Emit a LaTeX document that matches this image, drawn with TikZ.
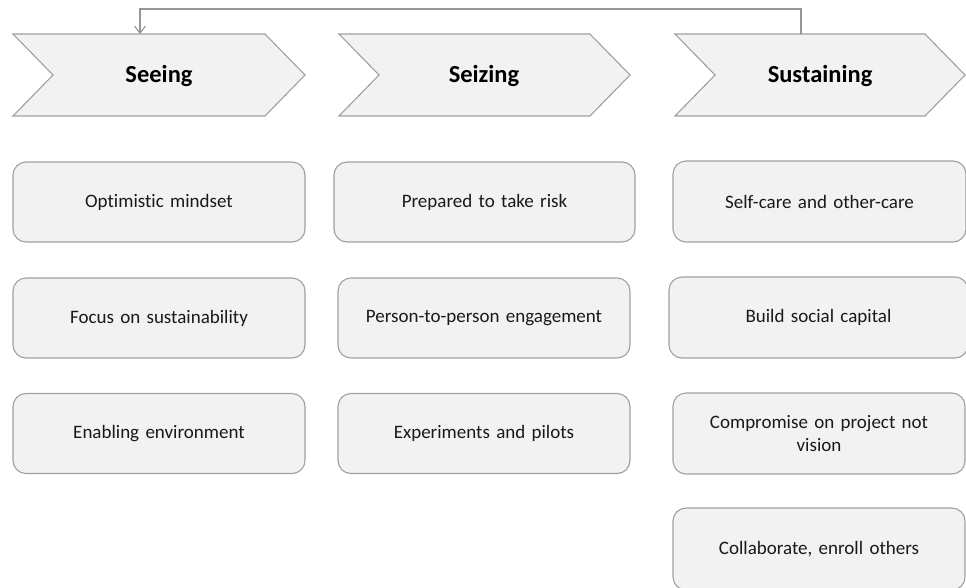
\documentclass[tikz,border=0pt]{standalone}
\usepackage{fontspec}
\setmainfont{Carlito}[Ligatures=CommonOff]
\usetikzlibrary{arrows.meta}
\definecolor{boxfill}{RGB}{242,242,242}
\definecolor{boxline}{RGB}{160,160,160}
\definecolor{linkline}{RGB}{150,150,150}
\tikzset{
  chevron/.style={fill=boxfill, draw=boxline, line width=1.1pt, line join=miter},
  stagelabel/.style={font=\fontsize{24.5}{28}\selectfont\bfseries, text=black, inner sep=0pt},
  itembox/.style={draw=boxline, fill=boxfill, line width=1.1pt, rounded corners=13pt,
    align=center, text width=260pt, font=\fontsize{19}{23.5}\selectfont, text=black!90,
    inner sep=0pt},
  loopline/.style={draw=linkline, line width=1.1pt, -{Straight Barb[length=7pt,width=11pt]}}
}
\begin{document}
\begin{tikzpicture}[x=1pt,y=-1pt]
\useasboundingbox (0,0) rectangle (966,587);

% stage chevrons
\path[chevron] (13,34) -- (265,34) -- (305,75) -- (265,116) -- (13,116) -- (53,75) -- cycle;
\node[stagelabel] (seeing) at (159,76) {Seeing};
\path[chevron] (339,34) -- (590,34) -- (630,75) -- (590,116) -- (339,116) -- (379,75) -- cycle;
\node[stagelabel] (seizing) at (484,76) {Seizing};
\path[chevron] (675,34) -- (925,34) -- (965,75) -- (925,116) -- (675,116) -- (715,75) -- cycle;
\node[stagelabel] (sustaining) at (820,76) {Sustaining};

% feedback loop from the last stage back to the first
\coordinate (loopstart) at (801,34);
\coordinate (loopend) at (140,34);
\draw[loopline] (loopstart) -- (801,9) -- (140,9) -- (loopend);

% Seeing column
\node[itembox, minimum width=292pt, minimum height=80pt] (s1) at (159,202) {Optimistic mindset};
\node[itembox, minimum width=292pt, minimum height=80pt] (s2) at (159,318) {Focus on sustainability};
\node[itembox, minimum width=292pt, minimum height=80pt] (s3) at (159,433.5) {Enabling environment};

% Seizing column
\node[itembox, minimum width=301pt, minimum height=80pt] (z1) at (484.5,202) {Prepared to take risk};
\node[itembox, minimum width=292pt, minimum height=80pt] (z2) at (484,318) {Person-to-person engagement};
\node[itembox, minimum width=292pt, minimum height=80pt] (z3) at (484,433.5) {Experiments and pilots};

% Sustaining column
\node[itembox, minimum width=293pt, minimum height=81pt] (u1) at (819.5,201.5) {Self-care and other-care};
\node[itembox, minimum width=299pt, minimum height=81pt] (u2) at (818.5,317.5) {Build social capital};
\node[itembox, minimum width=292pt, minimum height=81pt] (u3) at (819,433.5) {Compromise on project not\\vision};
\node[itembox, minimum width=292pt, minimum height=82pt] (u4) at (819,549) {Collaborate, enroll others};
\end{tikzpicture}
\end{document}
